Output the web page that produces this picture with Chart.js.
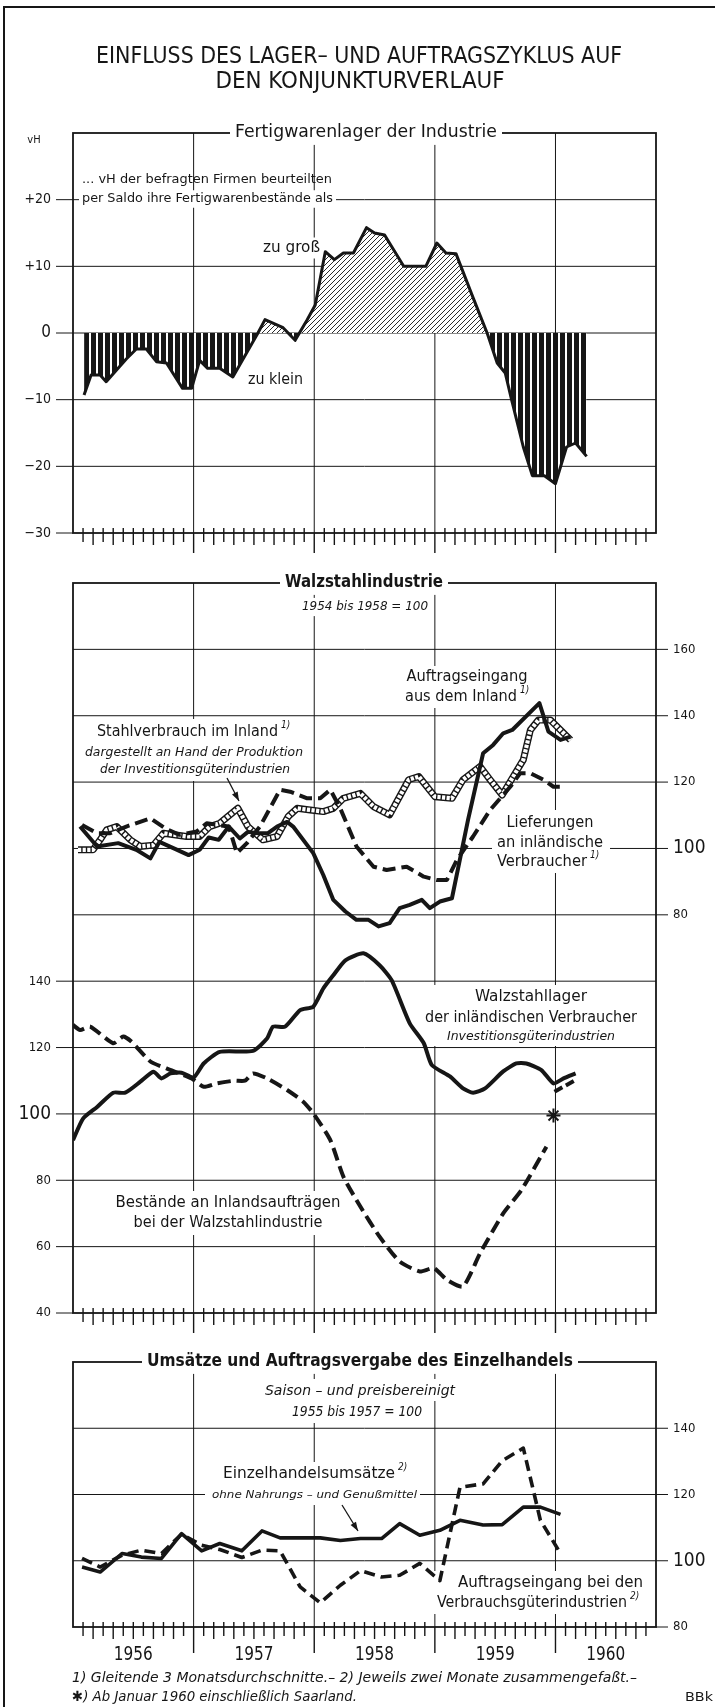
<!DOCTYPE html>
<html>
<head>
<meta charset="utf-8">
<script src="https://cdn.jsdelivr.net/npm/chart.js@4.4.1/dist/chart.umd.min.js"></script>
<style>
    html, body { margin: 0; padding: 0; background: #fff; }
    body { width: 715px; height: 1707px; position: relative; overflow: hidden; }
    .frame { position: absolute; left: 3px; top: 6px; width: 800px; height: 1800px;
             border-left: 2px solid #161616; border-top: 2px solid #161616; }
    canvas { position: absolute; left: 0; }
</style>
</head>
<body>
<div class="frame"></div>
<canvas id="head" width="715" height="100" style="top:0;width:715px;height:100px"></canvas>
<canvas id="stockChart" width="715" height="470" style="top:100px;width:715px;height:470px"></canvas>
<canvas id="steelChart" width="715" height="770" style="top:570px;width:715px;height:770px"></canvas>
<canvas id="retailChart" width="715" height="367" style="top:1340px;width:715px;height:367px"></canvas>
<script>
(function() {
    'use strict';

    const INK = '#161616';
    const FONT = '"DejaVu Sans Condensed", "DejaVu Sans", sans-serif';

    // x axis counts months from January 1956
    const yearStarts = [12, 24, 36, 48];
    const yearLabels = ['1956', '1957', '1958', '1959', '1960'];
    const yearLabelMonths = [6, 18, 30, 42, 53];

    // Fertigwarenlager: balance of firms (vH)
    const stockMonths = [1.1, 1.8, 2.7, 3.3, 5.3, 6.3, 7.3, 8.3, 9.3, 10.9, 11.8, 12.6, 13.4, 14.6, 15.9,
        18.4, 19.1, 20.9, 22.1, 23.3, 24.1, 25.1, 26.0, 26.9, 27.9, 29.2, 30.0, 31.0, 32.9, 35.1,
        36.2, 37.1, 38.1, 39.8, 41.2, 42.2, 43.0, 43.6, 44.8, 45.7, 46.9, 48.0, 49.1, 50.0, 51.1];
    const stockBalance = [-9.3, -6.3, -6.3, -7.3, -3.9, -2.4, -2.4, -4.3, -4.5, -8.3, -8.3, -4.1, -5.3, -5.3, -6.6,
        0, 2.0, 0.8, -1.1, 2.0, 4.2, 12.2, 11.0, 12.0, 12.0, 15.8, 15.0, 14.7, 10.0, 10.0,
        13.5, 12.0, 11.9, 5.3, 0, -4.5, -6.0, -9.8, -17.1, -21.4, -21.4, -22.6, -17.1, -16.5, -18.5];
    const stockTicks = [20, 10, 0, -10, -20, -30];
    const stockTickLabels = ['+20', '+10', '0', '\u221210', '\u221220', '\u221230'];

    // Walzstahlindustrie, upper part (right scale)
    const ordersMonths = [0.7, 2.4, 4.5, 6.3, 7.7, 8.6, 10.2, 11.5, 12.6, 13.5, 14.5, 15.5, 16.6, 17.4, 18.4,
        19.4, 20.3, 21.3, 21.9, 23.9, 24.9, 25.9, 27.1, 28.2, 29.4, 30.4, 31.5, 32.5, 33.5, 34.7,
        35.5, 36.5, 37.7, 39.3, 40.8, 41.8, 42.8, 43.7, 46.4, 47.3, 48.5, 49.5];
    const ordersIndex = [106.6, 100.6, 101.6, 99.6, 97, 102, 99.8, 98, 99.6, 103.3, 102.6, 106.6, 103, 105, 104.6,
        104.6, 106.6, 108, 106.6, 98.6, 92, 84.5, 81, 78.5, 78.5, 76.5, 77.5, 82, 83, 84.5,
        82, 84, 85, 108.6, 128.7, 131.2, 134.7, 135.7, 143.8, 135.2, 132.7, 133.7];

    const useMonths = [0.5, 2.0, 2.7, 3.35, 4.35, 5.7, 6.7, 8.0, 9.0, 11.3, 12.6, 13.6, 14.6, 16.4, 17.4,
        18.9, 20.3, 21.4, 22.3, 23.6, 24.9, 25.9, 26.9, 28.6, 29.9, 31.5, 33.4, 34.4, 36.0, 37.7,
        38.8, 40.5, 41.5, 42.7, 43.8, 44.8, 45.5, 46.3, 47.5, 48.5, 49.5];
    const useIndex = [99.6, 99.6, 102.6, 105.6, 106.6, 102.6, 100.6, 101, 104.6, 103.6, 103.6, 106.6, 107.6, 112.1, 106.6,
        102.6, 103.6, 109.6, 112.1, 111.6, 111.1, 112.1, 115.1, 116.6, 112.6, 110.1, 120.7, 121.7, 115.6, 115.1,
        120.7, 124.7, 120.7, 116.1, 121.7, 126.7, 135.7, 138.7, 138.7, 135.7, 132.7];

    const deliveryMonths = [0.9, 2.4, 3.7, 5.3, 7.7, 9.2, 10.6, 12.3, 13.3, 15.5, 16.3, 17.3, 18.6, 20.6, 21.6,
        23.3, 24.6, 25.6, 26.6, 28.2, 29.9, 31.2, 33.2, 34.9, 36.2, 37.2, 38.2, 39.8, 41.5, 43.5,
        44.5, 45.5, 46.8, 47.8, 48.5];
    const deliveryIndex = [107.1, 104.6, 104.6, 106.6, 109.1, 106, 104.1, 105.1, 107.6, 106.6, 98.6, 101.6, 106.6, 117.7, 117.1,
        115.1, 115.1, 117.7, 112, 100.6, 94.5, 93.5, 94.5, 91.5, 90.5, 90.5, 96.6, 103.6, 111.6, 118.6,
        122.7, 122.7, 120.7, 118.6, 118.6];
    const steelRightTicks = [160, 140, 120, 100, 80];

    // Walzstahlindustrie, lower part (left scale)
    const inventoryMonths = [0, 1.0, 2.4, 4.0, 5.2, 6.7, 8.0, 8.8, 9.7, 10.8, 12.0, 13.0, 14.6, 17.9, 19.3,
        19.9, 21.1, 22.6, 23.9, 24.9, 25.9, 27.1, 28.9, 30.5, 31.7, 33.5, 34.9, 35.7, 37.5, 38.8,
        39.8, 41.0, 42.8, 44.1, 45.1, 46.6, 47.8, 48.8, 50.0];
    const inventoryIndex = [92.1, 98.6, 102.1, 106.4, 106.4, 109.7, 112.7, 110.7, 112.2, 112.4, 111, 115.2, 118.7, 119, 122.7,
        126.3, 126.3, 131.3, 132.3, 137.8, 141.8, 146.3, 148.4, 144.8, 140.3, 127.3, 121.3, 114.7, 111.3, 107.7,
        106.4, 107.7, 112.8, 115.2, 115.2, 113.2, 109.2, 110.7, 112.2];
    const inventorySaarMonths = [47.9, 50.0];
    const inventorySaarIndex = [106.7, 110.2];
    const saarMarkMonth = [47.8];
    const saarMarkIndex = [99.5];

    const backlogMonths = [0, 0.7, 1.7, 4.0, 5.0, 5.8, 7.7, 9.3, 11.8, 13.0, 14.3, 16.0, 17.1, 17.9, 19.3,
        21.3, 22.9, 23.9, 25.6, 26.9, 28.6, 30.5, 32.5, 34.5, 35.9, 37.2, 38.8, 40.5, 42.8, 44.6, 47.1];
    const backlogIndex = [126.8, 125.3, 126.3, 121.3, 123.3, 121.8, 115.8, 113.7, 110.7, 108.2, 109.2, 110, 110, 112.2, 110.7,
        107.2, 103.7, 100.2, 92.1, 81.1, 72, 63, 55.5, 52.5, 53.5, 50, 48, 58, 70, 77, 90.1];
    const steelLeftTicks = [140, 120, 100, 80, 60, 40];

    // Einzelhandel (two-month values)
    const retailMonths = [0.9, 2.7, 4.9, 6.8, 8.8, 10.8, 12.8, 14.6, 16.8, 18.8, 20.6, 22.6, 24.6,
        26.6, 28.6, 30.7, 32.5, 34.5, 36.5, 38.5, 40.8, 42.7, 44.8, 46.5, 48.5];
    const retailSales = [98.1, 96.6, 102.2, 101.1, 100.7, 108.2, 103, 105.2, 103, 109, 106.9, 106.9, 106.9,
        106.1, 106.7, 106.7, 111.2, 107.7, 109.2, 112.2, 110.8, 110.9, 116.2, 116.2, 114];
    const consumerOrders = [100.7, 98.1, 101.7, 103.2, 102.2, 108, 104.7, 103.4, 101, 103.2, 103, 92.1, 87.3,
        92.6, 97, 95.1, 95.6, 99.2, 94, 122.2, 123.2, 130.2, 134, 112.2, 102.2];
    const retailTicks = [140, 120, 100, 80];

    function pts(xs, ys) { return xs.map((x, i) => ({ x: x, y: ys[i] })); }

    function line(ctx, x1, y1, x2, y2) {
        ctx.beginPath(); ctx.moveTo(x1, y1); ctx.lineTo(x2, y2); ctx.stroke();
    }

    function blank(ctx, x1, y1, x2, y2) {
        ctx.fillStyle = '#fff';
        ctx.fillRect(x1, y1, x2 - x1, y2 - y1);
    }

    // draws text, optionally squeezed to width w
    function txt(ctx, s, x, y, o) {
        o = o || {};
        const size = o.size || 14;
        ctx.save();
        ctx.font = (o.italic ? 'italic ' : '') + (o.bold ? 'bold ' : '') + size + 'px ' + FONT;
        ctx.textBaseline = 'middle';
        ctx.textAlign = 'left';
        const mw = ctx.measureText(s).width;
        const sx = o.w ? o.w / mw : 1;
        const w = mw * sx;
        let left = x;
        if (o.align === 'center') left = x - w / 2;
        else if (o.align === 'right') left = x - w;
        if (o.bg) blank(ctx, left - o.bg, y - size * 0.7, left + w + o.bg, y + size * 0.7);
        ctx.fillStyle = INK;
        ctx.translate(left, y);
        ctx.scale(sx, 1);
        ctx.fillText(s, 0, 0);
        ctx.restore();
    }

    function sup(ctx, s, x, y) {
        txt(ctx, s, x, y - 7, { size: 10, italic: true });
    }

    function arrow(ctx, x1, y1, x2, y2) {
        ctx.strokeStyle = INK;
        ctx.lineWidth = 1.3;
        line(ctx, x1, y1, x2, y2);
        const a = Math.atan2(y2 - y1, x2 - x1), len = 9, half = 3.2;
        ctx.beginPath();
        ctx.moveTo(x2, y2);
        ctx.lineTo(x2 - len * Math.cos(a) + half * Math.sin(a), y2 - len * Math.sin(a) - half * Math.cos(a));
        ctx.lineTo(x2 - len * Math.cos(a) - half * Math.sin(a), y2 - len * Math.sin(a) + half * Math.cos(a));
        ctx.closePath();
        ctx.fillStyle = INK;
        ctx.fill();
    }

    // grid, axes, labels of one panel; coordinates in page pixels
    function panelPlugin(o) {
        return {
            id: 'panel',
            beforeDatasetsDraw(chart) {
                const ctx = chart.ctx, a = chart.chartArea, xs = chart.scales.x;
                const gs = chart.scales[o.gridAxis];
                const T = o.top;
                const L = a.left, R = a.right, top = a.top + T, bot = a.bottom + T;
                ctx.save();
                ctx.translate(0, -T);
                ctx.strokeStyle = INK;
                ctx.lineWidth = 1;
                o.grid.forEach(v => {
                    const y = gs.getPixelForValue(v) + T;
                    line(ctx, L, y, R, y);
                });
                yearStarts.forEach(m => {
                    const x = xs.getPixelForValue(m);
                    line(ctx, x, top, x, bot);
                });
                ctx.lineWidth = 1.4;
                for (let m = 1; m < 58; m++) {
                    const x = xs.getPixelForValue(m);
                    if (yearStarts.includes(m)) line(ctx, x, bot, x, bot + o.yearTick);
                    else line(ctx, x, bot - 5, x, bot + (m % 2 ? 9 : 12));
                }
                ctx.lineWidth = 1.8;
                ctx.strokeRect(L, top, R - L, bot - top);

                (o.left || []).forEach(t => {
                    const y = chart.scales[t.axis].getPixelForValue(t.v) + T;
                    ctx.lineWidth = 1;
                    line(ctx, L - 17, y, L, y);
                    txt(ctx, t.s, L - 22, y, { align: 'right', size: t.size });
                });
                (o.right || []).forEach(t => {
                    const y = chart.scales[t.axis].getPixelForValue(t.v) + T;
                    ctx.lineWidth = 1;
                    line(ctx, R, y, R + 12, y);
                    txt(ctx, t.s, R + 17, y, { size: t.size });
                });
                (o.blanks || []).forEach(b => blank(ctx, b[0], b[1], b[2], b[3]));
                (o.texts || []).forEach(t => txt(ctx, t[0], t[1], t[2], t[3]));
                (o.sups || []).forEach(t => sup(ctx, t[0], t[1], t[2]));
                if (o.years) {
                    yearLabels.forEach((s, i) => {
                        txt(ctx, s, xs.getPixelForValue(yearLabelMonths[i]), bot + 28, { align: 'center', size: 19, w: 39 });
                    });
                }
                ctx.restore();
            },
            afterDatasetsDraw(chart) {
                const ctx = chart.ctx;
                ctx.save();
                ctx.translate(0, -o.top);
                (o.arrows || []).forEach(a => arrow(ctx, a[0], a[1], a[2], a[3]));
                ctx.restore();
            }
        };
    }

    function makeChart(id, pad, scales, datasets, panel) {
        return new Chart(document.getElementById(id), {
            type: 'line',
            data: { datasets: datasets },
            options: {
                responsive: false,
                animation: false,
                devicePixelRatio: 1,
                layout: { padding: pad },
                scales: scales,
                plugins: { legend: { display: false }, tooltip: { enabled: false } },
                elements: {
                    point: { radius: 0 },
                    line: { tension: 0, borderCapStyle: 'butt', borderJoinStyle: 'round' }
                }
            },
            plugins: [panelPlugin(panel)]
        });
    }

    // fill patterns for the stock panel
    function hatchPattern() {
        const c = document.createElement('canvas');
        c.width = 5; c.height = 5;
        const g = c.getContext('2d');
        g.fillStyle = '#fff';
        g.fillRect(0, 0, 5, 5);
        g.strokeStyle = '#2a2a2a';
        g.lineWidth = 1;
        g.beginPath();
        g.moveTo(-1, 6); g.lineTo(6, -1);
        g.moveTo(-1, 1); g.lineTo(1, -1);
        g.moveTo(4, 6); g.lineTo(6, 4);
        g.stroke();
        return g.createPattern(c, 'repeat');
    }

    function stripePattern() {
        const c = document.createElement('canvas');
        c.width = 7; c.height = 4;
        const g = c.getContext('2d');
        g.fillStyle = '#fff';
        g.fillRect(0, 0, 7, 4);
        g.fillStyle = INK;
        g.fillRect(0, 0, 5, 4);
        return g.createPattern(c, 'repeat');
    }

    const xScale = { type: 'linear', min: 0, max: 58, display: false };

    // heading
    const head = document.getElementById('head').getContext('2d');
    txt(head, 'EINFLUSS DES LAGER\u2013 UND AUFTRAGSZYKLUS AUF', 359, 57, { align: 'center', size: 23, w: 526 });
    txt(head, 'DEN KONJUNKTURVERLAUF', 360, 82, { align: 'center', size: 23, w: 289 });

    // panel 1: Fertigwarenlager
    makeChart('stockChart', { left: 73, right: 59, top: 33, bottom: 37 },
        { x: xScale, y: { min: -30, max: 30, display: false } },
        [{
            data: pts(stockMonths, stockBalance),
            borderColor: INK,
            borderWidth: 3,
            fill: { target: 'origin', above: hatchPattern(), below: stripePattern() }
        }],
        {
            top: 100,
            gridAxis: 'y',
            grid: [20, 10, 0, -10, -20],
            yearTick: 20,
            left: stockTicks.map((v, i) => ({ axis: 'y', v: v, s: stockTickLabels[i], size: v === 0 ? 17 : 14 })),
            texts: [
                ['Fertigwarenlager der Industrie', 366, 133, { align: 'center', size: 17, w: 262, bg: 5 }],
                ['vH', 34, 140, { align: 'center', size: 11 }],
                ['... vH der befragten Firmen beurteilten', 82, 180, { size: 12.5, w: 250 }],
                ['per Saldo ihre Fertigwarenbest\u00e4nde als', 82, 199, { size: 12.5, w: 251, bg: 3 }],
                ['zu gro\u00df', 320, 248, { align: 'right', size: 15, w: 57, bg: 2 }],
                ['zu klein', 248, 380, { size: 15, w: 55 }]
            ]
        });

    // panel 2: Walzstahlindustrie (higher order is drawn first, underneath)
    makeChart('steelChart', { left: 73, right: 59, top: 13, bottom: 27 },
        {
            x: xScale,
            yL: { type: 'linear', position: 'left', min: 40, max: 260, display: false },
            yR: { type: 'linear', position: 'right', min: -40, max: 180, display: false }
        },
        [
            { data: pts(useMonths, useIndex), yAxisID: 'yR', borderColor: INK, borderWidth: 7, order: 9 },
            { data: pts(useMonths, useIndex), yAxisID: 'yR', borderColor: '#fff', borderWidth: 4.2, borderDash: [3.2, 1.4], order: 8 },
            { data: pts(deliveryMonths, deliveryIndex), yAxisID: 'yR', borderColor: INK, borderWidth: 4, borderDash: [13, 6], order: 7 },
            { data: pts(ordersMonths, ordersIndex), yAxisID: 'yR', borderColor: INK, borderWidth: 4, order: 6 },
            { data: pts(inventoryMonths, inventoryIndex), yAxisID: 'yL', borderColor: INK, borderWidth: 4, tension: 0.2, order: 5 },
            { data: pts(inventorySaarMonths, inventorySaarIndex), yAxisID: 'yL', borderColor: INK, borderWidth: 4, borderDash: [9, 4], order: 4 },
            { data: pts(backlogMonths, backlogIndex), yAxisID: 'yL', borderColor: INK, borderWidth: 4, borderDash: [13, 6], tension: 0.2, order: 3 },
            { data: pts(saarMarkMonth, saarMarkIndex), yAxisID: 'yL', showLine: false, pointStyle: 'star',
              pointRadius: 7, pointBorderWidth: 2, pointBorderColor: INK, order: 2 }
        ],
        {
            top: 570,
            gridAxis: 'yL',
            grid: [60, 80, 100, 120, 140, 160, 180, 200, 220, 240],
            yearTick: 20,
            left: steelLeftTicks.map(v => ({ axis: 'yL', v: v, s: String(v), size: v === 100 ? 19 : 13 })),
            right: steelRightTicks.map(v => ({ axis: 'yR', v: v, s: String(v), size: v === 100 ? 19 : 13 })),
            blanks: [
                [398, 666, 540, 708],
                [80, 719, 306, 781],
                [492, 810, 610, 873],
                [422, 985, 640, 1046],
                [110, 1191, 346, 1235]
            ],
            texts: [
                ['Walzstahlindustrie', 364, 583, { align: 'center', size: 17, bold: true, w: 158, bg: 5 }],
                ['1954 bis 1958 = 100', 365, 607, { align: 'center', size: 13, italic: true, w: 126, bg: 4 }],
                ['Auftragseingang', 467, 677, { align: 'center', size: 15, w: 121 }],
                ['aus dem Inland', 405, 697, { size: 15, w: 112 }],
                ['Stahlverbrauch im Inland', 97, 732, { size: 15, w: 181 }],
                ['dargestellt an Hand der Produktion', 85, 753, { size: 12.5, italic: true, w: 218 }],
                ['der Investitionsg\u00fcterindustrien', 100, 770, { size: 12.5, italic: true, w: 190 }],
                ['Lieferungen', 550, 823, { align: 'center', size: 15, w: 87 }],
                ['an inl\u00e4ndische', 550, 843, { align: 'center', size: 15, w: 106 }],
                ['Verbraucher', 497, 862, { size: 15, w: 90 }],
                ['Walzstahllager', 531, 997, { align: 'center', size: 15, w: 112 }],
                ['der inl\u00e4ndischen Verbraucher', 531, 1018, { align: 'center', size: 15, w: 212 }],
                ['Investitionsg\u00fcterindustrien', 531, 1037, { align: 'center', size: 12.5, italic: true, w: 168 }],
                ['Best\u00e4nde an Inlandsauftr\u00e4gen', 228, 1203, { align: 'center', size: 15, w: 225 }],
                ['bei der Walzstahlindustrie', 228, 1223, { align: 'center', size: 15, w: 189 }]
            ],
            sups: [['1)', 520, 697], ['1)', 281, 732], ['1)', 590, 862]],
            arrows: [[227, 778, 239, 801]]
        });

    // panel 3: Einzelhandel
    makeChart('retailChart', { left: 73, right: 59, top: 22, bottom: 80 },
        { x: xScale, y: { min: 80, max: 160, display: false } },
        [
            { data: pts(retailMonths, consumerOrders), borderColor: INK, borderWidth: 3.6, borderDash: [11, 6] },
            { data: pts(retailMonths, retailSales), borderColor: INK, borderWidth: 3.6 }
        ],
        {
            top: 1340,
            gridAxis: 'y',
            grid: [100, 120, 140],
            yearTick: 26,
            years: true,
            right: retailTicks.map(v => ({ axis: 'y', v: v, s: String(v), size: v === 100 ? 19 : 13 })),
            blanks: [
                [262, 1379, 458, 1401],
                [288, 1401, 428, 1423],
                [205, 1462, 420, 1505],
                [432, 1571, 650, 1614]
            ],
            texts: [
                ['Ums\u00e4tze und Auftragsvergabe des Einzelhandels', 360, 1362, { align: 'center', size: 17, bold: true, w: 426, bg: 5 }],
                ['Saison \u2013 und preisbereinigt', 360, 1391, { align: 'center', size: 14, italic: true, w: 190 }],
                ['1955 bis 1957 = 100', 357, 1412, { align: 'center', size: 14, italic: true, w: 130 }],
                ['Einzelhandelsums\u00e4tze', 223, 1474, { size: 15, w: 172 }],
                ['ohne Nahrungs \u2013 und Genu\u00dfmittel', 212, 1495, { size: 11, italic: true, w: 205 }],
                ['Auftragseingang bei den', 643, 1583, { align: 'right', size: 15, w: 185 }],
                ['Verbrauchsg\u00fcterindustrien', 437, 1603, { size: 15, w: 190 }],
                ['1) Gleitende 3 Monatsdurchschnitte.\u2013 2) Jeweils zwei Monate zusammengefa\u00dft.\u2013', 72, 1678, { size: 14, italic: true, w: 565 }],
                ['\u2731) Ab Januar 1960 einschlie\u00dflich Saarland.', 72, 1697, { size: 14, italic: true, w: 285 }],
                ['BBk', 699, 1698, { align: 'center', size: 12, w: 28 }]
            ],
            sups: [['2)', 398, 1474], ['2)', 630, 1603]],
            arrows: [[342, 1505, 358, 1531]]
        });
})();
</script>
</body>
</html>
